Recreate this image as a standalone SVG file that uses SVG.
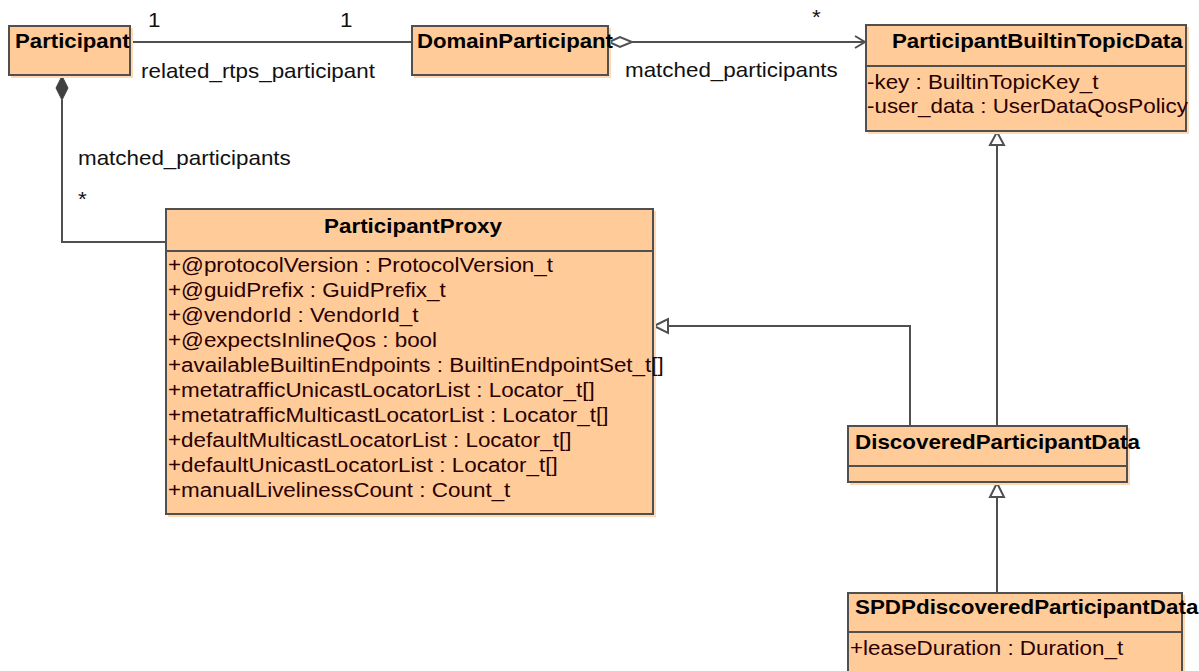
<svg xmlns="http://www.w3.org/2000/svg" width="1199" height="671" viewBox="0 0 1199 671">
<style>
.box{fill:#FFCC99;stroke:#505050;stroke-width:2}
.sh{fill:#FFD9B3;stroke:none}
.div{stroke:#505050;stroke-width:2}
.t{font-family:"Liberation Sans",Arial,sans-serif;font-size:20px;font-weight:bold;fill:#000}
.a{font-family:"Liberation Sans",Arial,sans-serif;font-size:20px;fill:#2A0000}
.l{font-family:"Liberation Sans",Arial,sans-serif;font-size:20px;fill:#111}
.c{fill:none;stroke:#505050;stroke-width:2}
</style>
<rect width="1199" height="671" fill="#fff"/>
<g id="connectors">
  <line class="c" x1="130" y1="42" x2="412" y2="42"/>
  <text class="l" transform="translate(148,27) scale(1.12,1)">1</text>
  <text class="l" transform="translate(340,27) scale(1.12,1)">1</text>
  <text class="l" transform="translate(141,78) scale(1.12,1)">related_rtps_participant</text>
  <line class="c" x1="632" y1="42" x2="865" y2="42"/>
  <polygon points="609,42 620,37 632,42 620,47" fill="#fff" stroke="#505050" stroke-width="2"/>
  <polyline class="c" points="855,36 865,42 855,48"/>
  <text class="l" transform="translate(812,24) scale(1.12,1)">*</text>
  <text class="l" transform="translate(625,77) scale(1.12,1)">matched_participants</text>
  <polyline class="c" points="62,100 62,242 166,242"/>
  <polygon points="62,76 68,88 62,100 56,88" fill="#404040" stroke="#404040" stroke-width="1"/>
  <text class="l" transform="translate(78,165) scale(1.12,1)">matched_participants</text>
  <text class="l" transform="translate(78,206) scale(1.12,1)">*</text>
  <line class="c" x1="997" y1="145" x2="997" y2="426"/>
  <polygon points="997,132 1004,145 990,145" fill="#fff" stroke="#505050" stroke-width="2"/>
  <polyline class="c" points="668,326 910,326 910,426"/>
  <polygon points="654,326 668,319 668,333" fill="#fff" stroke="#505050" stroke-width="2"/>
  <line class="c" x1="997" y1="497" x2="997" y2="593"/>
  <polygon points="997,483 1004,497 990,497" fill="#fff" stroke="#505050" stroke-width="2"/>
</g>
<g id="Participant">
  <rect class="sh" x="11" y="28" width="122" height="50"/>
  <rect class="box" x="9" y="26" width="121" height="49"/>
  <text class="t" transform="translate(15,48) scale(1.11,1)">Participant</text>
</g>
<g id="DomainParticipant">
  <rect class="sh" x="414" y="28" width="197" height="50"/>
  <rect class="box" x="412" y="26" width="196" height="49"/>
  <text class="t" transform="translate(417,48) scale(1.11,1)">DomainParticipant</text>
</g>
<g id="ParticipantBuiltinTopicData">
  <rect class="sh" x="868" y="27" width="321" height="107"/>
  <rect class="box" x="866" y="25" width="320" height="106"/>
  <line class="div" x1="866" y1="66" x2="1186" y2="66"/>
  <text class="t" transform="translate(892,48) scale(1.115,1)">ParticipantBuiltinTopicData</text>
  <text class="a" transform="translate(867,89) scale(1.12,1)">-key : BuiltinTopicKey_t</text>
  <text class="a" transform="translate(867,113) scale(1.12,1)">-user_data : UserDataQosPolicy</text>
</g>
<g id="ParticipantProxy">
  <rect class="sh" x="168" y="211" width="488" height="306"/>
  <rect class="box" x="166" y="209" width="487" height="305"/>
  <line class="div" x1="166" y1="251" x2="653" y2="251"/>
  <text class="t" text-anchor="middle" transform="translate(413,233) scale(1.12,1)">ParticipantProxy</text>
  <text class="a" transform="translate(168,272) scale(1.122,1)">+@protocolVersion : ProtocolVersion_t</text>
  <text class="a" transform="translate(168,297) scale(1.122,1)">+@guidPrefix : GuidPrefix_t</text>
  <text class="a" transform="translate(168,322) scale(1.122,1)">+@vendorId : VendorId_t</text>
  <text class="a" transform="translate(168,347) scale(1.122,1)">+@expectsInlineQos : bool</text>
  <text class="a" transform="translate(168,372) scale(1.122,1)">+availableBuiltinEndpoints : BuiltinEndpointSet_t[]</text>
  <text class="a" transform="translate(168,397) scale(1.122,1)">+metatrafficUnicastLocatorList : Locator_t[]</text>
  <text class="a" transform="translate(168,422) scale(1.122,1)">+metatrafficMulticastLocatorList : Locator_t[]</text>
  <text class="a" transform="translate(168,447) scale(1.122,1)">+defaultMulticastLocatorList : Locator_t[]</text>
  <text class="a" transform="translate(168,472) scale(1.122,1)">+defaultUnicastLocatorList : Locator_t[]</text>
  <text class="a" transform="translate(168,497) scale(1.122,1)">+manualLivelinessCount : Count_t</text>
</g>
<g id="DiscoveredParticipantData">
  <rect class="sh" x="850" y="428" width="280" height="57"/>
  <rect class="box" x="848" y="426" width="279" height="56"/>
  <line class="div" x1="848" y1="466" x2="1127" y2="466"/>
  <text class="t" transform="translate(855,449) scale(1.12,1)">DiscoveredParticipantData</text>
</g>
<g id="SPDPdiscoveredParticipantData">
  <rect class="sh" x="850" y="595" width="335" height="80"/>
  <rect class="box" x="848" y="593" width="334" height="90"/>
  <line class="div" x1="848" y1="632" x2="1182" y2="632"/>
  <text class="t" transform="translate(855,614) scale(1.12,1)">SPDPdiscoveredParticipantData</text>
  <text class="a" transform="translate(850,655) scale(1.12,1)">+leaseDuration : Duration_t</text>
</g>
</svg>
